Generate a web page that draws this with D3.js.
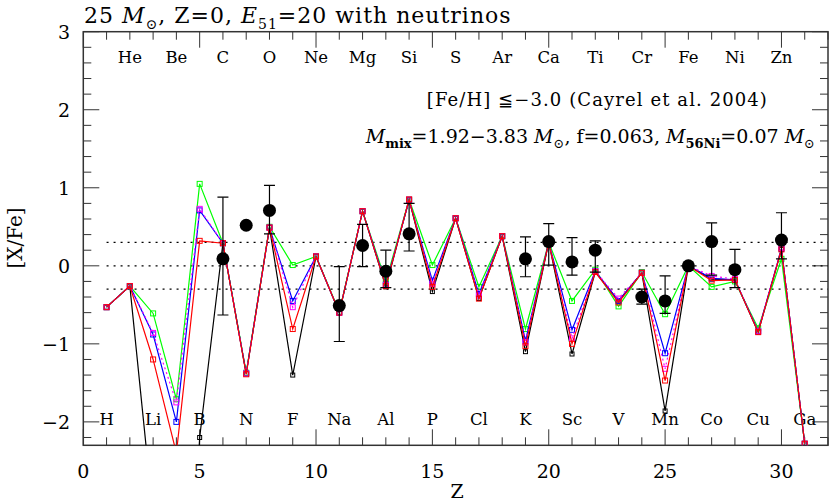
<!DOCTYPE html>
<html><head><meta charset="utf-8">
<script src="https://cdn.jsdelivr.net/npm/d3@7"></script>
<style>body{margin:0;background:#fff}svg{display:block}</style>
</head><body><svg id="c" width="830" height="503"></svg>
<script>
const elements = ["H","He","Li","Be","B","C","N","O","F","Ne","Na","Mg","Al","Si","P","S","Cl","Ar","K","Ca","Sc","Ti","V","Cr","Mn","Fe","Co","Ni","Cu","Zn","Ga"];
const Zs = d3.range(1, 32);
const blackY   = [-0.53,-0.26,-3.2,-8.0,-2.2,0.29,-1.38,0.49,-1.40,0.12,-0.60,0.70,-0.27,0.85,-0.33,0.61,-0.42,0.38,-1.10,0.30,-1.13,-0.08,-0.45,-0.09,-1.86,0,-0.17,-0.18,-0.85,0.21,-2.28];
const greenY   = [-0.53,-0.26,-0.61,-1.71,1.05,0.29,-1.37,0.50,0.01,0.12,-0.59,0.70,-0.20,0.85,0.01,0.61,-0.27,0.38,-0.81,0.30,-0.45,-0.05,-0.52,-0.08,-0.62,0,-0.27,-0.20,-0.80,0.09,-2.28];
const blueY    = [-0.53,-0.26,-0.88,-2.0,0.71,0.29,-1.38,0.49,-0.45,0.12,-0.60,0.70,-0.24,0.84,-0.19,0.61,-0.36,0.38,-0.96,0.30,-0.82,-0.07,-0.45,-0.09,-1.12,0,-0.16,-0.18,-0.84,0.22,-2.28];
const magentaY = [-0.53,-0.26,-0.86,-1.75,0.73,0.29,-1.38,0.49,-0.53,0.12,-0.60,0.70,-0.25,0.85,-0.23,0.61,-0.38,0.38,-0.98,0.30,-0.93,-0.07,-0.42,-0.09,-1.32,0,-0.13,-0.17,-0.84,0.23,-2.28];
const redY     = [-0.53,-0.26,-1.20,-2.4,0.32,0.29,-1.39,0.49,-0.81,0.12,-0.60,0.70,-0.26,0.85,-0.27,0.61,-0.42,0.38,-1.03,0.30,-1.00,-0.08,-0.47,-0.09,-1.47,0,-0.19,-0.18,-0.85,0.21,-2.28];
// observations (Cayrel et al. 2004)
const obsZ   = [6, 7, 8, 11, 12, 13, 14, 19, 20, 21, 22, 24, 25, 26, 27, 28, 30];
const obsY   = [0.09,0.52,0.71,-0.51,0.26,-0.07,0.41,0.09,0.31,0.05,0.20,-0.40,-0.45,0.0,0.31,-0.05,0.33];
const obsHi  = [0.88,null,1.03,-0.01,0.53,0.20,0.80,0.37,0.54,0.36,0.32,-0.30,-0.13,null,0.55,0.21,0.68];
const obsLo  = [-0.63,null,0.41,-0.97,-0.01,-0.28,0.19,-0.14,0.01,-0.12,-0.08,-0.49,-0.61,null,-0.12,-0.28,0.09];
const xTicks = [0,5,10,15,20,25,30];
const yTicks = [-2,-1,0,1,2,3];
const refLines = [0.3, 0, -0.3];

const svg = d3.select("#c");
const L=83.3, R=828, T=31.7, B=445.3;
const x = d3.scaleLinear().domain([0,32]).range([L,R]);
const y = d3.scaleLinear().domain([-2.3,3]).range([B,T]);
const serif = "'DejaVu Serif', serif";

svg.append("defs").append("clipPath").attr("id","clip")
  .append("rect").attr("x",L).attr("y",T).attr("width",R-L).attr("height",B-T);

const axisCol = "#333";
const g = svg.append("g");
const xMinor = d3.range(0,33), yMinor = d3.range(-2.2,3.0001,0.2).map(v=>+v.toFixed(1));
xMinor.forEach(v=>{
  const len = (v%5===0)?16:8;
  g.append("line").attr("x1",x(v)).attr("x2",x(v)).attr("y1",B).attr("y2",B-len).attr("stroke",axisCol).attr("stroke-width",1);
  g.append("line").attr("x1",x(v)).attr("x2",x(v)).attr("y1",T).attr("y2",T+len).attr("stroke",axisCol).attr("stroke-width",1);
});
yMinor.forEach(v=>{
  const len = (Math.abs(v-Math.round(v))<1e-6)?16:8;
  g.append("line").attr("y1",y(v)).attr("y2",y(v)).attr("x1",L).attr("x2",L+len).attr("stroke",axisCol).attr("stroke-width",1);
  g.append("line").attr("y1",y(v)).attr("y2",y(v)).attr("x1",R).attr("x2",R-len).attr("stroke",axisCol).attr("stroke-width",1);
});
svg.append("rect").attr("x",L).attr("y",T).attr("width",R-L).attr("height",B-T)
  .attr("fill","none").attr("stroke",axisCol).attr("stroke-width",1.5);

xTicks.forEach(v=>svg.append("text").attr("x",x(v)).attr("y",478).attr("text-anchor","middle")
  .attr("font-family",serif).attr("font-size",19).text(v));
yTicks.forEach(v=>svg.append("text").attr("x",70).attr("y",y(v)+7).attr("text-anchor","end")
  .attr("font-family",serif).attr("font-size",19).text(v<0?"\u2212"+Math.abs(v):v));
svg.append("text").attr("x",457).attr("y",498).attr("text-anchor","middle").attr("font-family",serif).attr("font-size",19).text("Z");
svg.append("text").attr("transform","translate(22,238) rotate(-90)").attr("text-anchor","middle")
  .attr("font-family",serif).attr("font-size",20).text("[X/Fe]");

elements.forEach((e,i)=>{
  const z=i+1;
  svg.append("text").attr("x",x(z)).attr("y", z%2===0?63:425).attr("text-anchor","middle")
    .attr("font-family",serif).attr("font-size",16.5).text(e);
});

refLines.forEach(v=>svg.append("line").attr("x1",x(1)).attr("x2",R).attr("y1",y(v)).attr("y2",y(v))
  .attr("stroke","#000").attr("stroke-width",1.2).attr("stroke-dasharray","2,5"));

const plot = svg.append("g").attr("clip-path","url(#clip)");
const line = d3.line().x((d,i)=>x(Zs[i])).y(d=>y(d));
const series = [
  {v:blackY, c:"#000", dash:null, s:4},
  {v:greenY, c:"#00ff00", dash:null, s:5},
  {v:blueY, c:"#0000ff", dash:null, s:5},
  {v:magentaY, c:"#ff00ff", dash:"2,3", s:5},
  {v:redY, c:"#ff0000", dash:null, s:5}
];
series.forEach(sr=>{
  plot.append("path").attr("d",line(sr.v)).attr("fill","none").attr("stroke",sr.c).attr("stroke-width",1.2)
    .attr("stroke-dasharray",sr.dash);
  sr.v.forEach((v,i)=>plot.append("rect").attr("x",x(Zs[i])-sr.s/2).attr("y",y(v)-sr.s/2)
    .attr("width",sr.s).attr("height",sr.s).attr("fill","none").attr("stroke",sr.c).attr("stroke-width",1));
});

obsZ.forEach((z,i)=>{
  if(obsHi[i]!==null){
    plot.append("line").attr("x1",x(z)).attr("x2",x(z)).attr("y1",y(obsLo[i])).attr("y2",y(obsHi[i])).attr("stroke","#000").attr("stroke-width",1.2);
    [obsLo[i],obsHi[i]].forEach(v=>plot.append("line").attr("x1",x(z)-5.5).attr("x2",x(z)+5.5).attr("y1",y(v)).attr("y2",y(v)).attr("stroke","#000").attr("stroke-width",1.2));
  }
  plot.append("circle").attr("cx",x(z)).attr("cy",y(obsY[i])).attr("r",6.5).attr("fill","#000");
});

const t = svg.append("text").attr("x",84).attr("y",23).attr("font-family",serif).attr("font-size",22).attr("letter-spacing",1);
t.append("tspan").text("25 ");
t.append("tspan").attr("font-style","italic").text("M");
t.append("tspan").attr("font-size",14).attr("dy",6).text("\u2299");
t.append("tspan").attr("dy",-6).text(", Z=0, ");
t.append("tspan").attr("font-style","italic").text("E");
t.append("tspan").attr("font-size",14).attr("dy",6).text("51");
t.append("tspan").attr("dy",-6).text("=20 with neutrinos");

svg.append("text").attr("x",768).attr("y",106).attr("text-anchor","end").attr("font-family",serif).attr("font-size",18).attr("letter-spacing",1.1)
  .text("[Fe/H] \u2266\u22123.0 (Cayrel et al. 2004)");
const a = svg.append("text").attr("x",815).attr("y",143).attr("text-anchor","end").attr("font-family",serif).attr("font-size",19);
a.append("tspan").attr("font-style","italic").text("M");
a.append("tspan").attr("font-size",13).attr("dy",5).attr("font-weight","bold").text("mix");
a.append("tspan").attr("dy",-5).text("=1.92\u22123.83 ");
a.append("tspan").attr("font-style","italic").text("M");
a.append("tspan").attr("font-size",13).attr("dy",5).text("\u2299");
a.append("tspan").attr("dy",-5).text(", f=0.063, ");
a.append("tspan").attr("font-style","italic").text("M");
a.append("tspan").attr("font-size",13).attr("dy",5).attr("font-weight","bold").text("56Ni");
a.append("tspan").attr("dy",-5).text("=0.07 ");
a.append("tspan").attr("font-style","italic").text("M");
a.append("tspan").attr("font-size",13).attr("dy",5).text("\u2299");
</script></body></html>
